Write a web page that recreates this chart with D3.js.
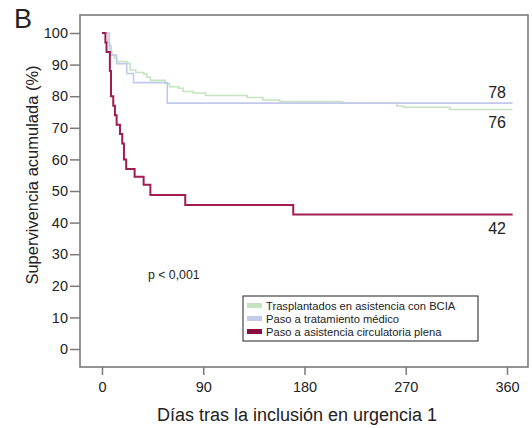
<!DOCTYPE html>
<html>
<head>
<meta charset="utf-8">
<script src="https://cdn.jsdelivr.net/npm/d3@7"></script>
<style>
  body { margin: 0; background: #fff; }
  svg text { font-family: "Liberation Sans", Arial, sans-serif; fill: #222; }
</style>
</head>
<body>
<svg id="km" width="532" height="428"></svg>
<script>
// survival curves: [day, % survival]
var bciaTx = [[0,100],[5,97],[6.5,94],[9,93],[11,92],[13,91],[22,90.4],[25,88.3],[30,87.5],[37,87],
  [40,86],[43,85],[56,84],[60,83],[68,82.5],[72,81.5],[81,81],[92,80.2],[129,79.6],[143,78.8],
  [158,78.3],[214,77.8],[262,76.9],[268,76.5],[309,75.8],[365,75.8]];
var medico = [[0,100],[6.5,96],[8,93],[13,90.3],[22,87.2],[28,84.3],[58,77.8],[365,77.8]];
var plena = [[0,100],[3,97],[4,94],[7,88],[8,80],[10,77],[11.5,74],[13,71],[16,68],[18,65],
  [19.5,60],[21.5,57],[29,54.5],[37,52],[43,48.7],[74,45.6],[170,42.6],[365,42.6]];

var seriesNames = ["Trasplantados en asistencia con BCIA", "Paso a tratamiento médico", "Paso a asistencia circulatoria plena"];
var endLabels = ["76", "78", "42"];
var xTicks = [0, 90, 180, 270, 360];
var yTicks = [0, 10, 20, 30, 40, 50, 60, 70, 80, 90, 100];

(function () {
  var svg = d3.select("#km");
  var colors = ["#c3e4bf", "#c2c9ea", "#a01c52"];
  var swatch = ["#c3e4bf", "#c2c9ea", "#8c0c42"];
  var widths = [1.6, 1.6, 2];

  var x = d3.scaleLinear().domain([0, 360]).range([102, 507]);
  var y = d3.scaleLinear().domain([0, 100]).range([349, 33]);

  // plot frame
  svg.append("rect")
    .attr("x", 80).attr("y", 15)
    .attr("width", 448).attr("height", 352)
    .attr("fill", "none").attr("stroke", "#7a7a7a").attr("stroke-width", 1.6);

  // y axis
  var gy = svg.append("g")
    .attr("transform", "translate(80,0)")
    .call(d3.axisLeft(y).tickValues(yTicks).tickSize(10).tickPadding(2))
    .call(g => g.select(".domain").remove());
  gy.selectAll(".tick line").attr("stroke", "#7a7a7a").attr("stroke-width", 1.5);
  gy.selectAll(".tick text").style("font-size", "14.5px").attr("fill", "#222");

  // x axis, hangs below the frame
  var gx = svg.append("g")
    .attr("transform", "translate(0,367)")
    .call(d3.axisBottom(x).tickValues(xTicks).tickSize(8).tickPadding(7))
    .call(g => g.select(".domain").remove());
  gx.selectAll(".tick line").attr("stroke", "#7a7a7a").attr("stroke-width", 1.5);
  gx.selectAll(".tick text").style("font-size", "14.5px").attr("fill", "#222");

  var line = d3.line()
    .x(d => x(d[0]))
    .y(d => y(d[1]))
    .curve(d3.curveStepAfter);

  [bciaTx, medico, plena].forEach(function (s, i) {
    svg.append("path")
      .datum(s)
      .attr("d", line)
      .attr("fill", "none")
      .attr("stroke", colors[i])
      .attr("stroke-width", widths[i]);
  });

  // end labels
  var lastVals = [bciaTx, medico, plena].map(s => s[s.length - 1][1]);
  var offs = [19, -5, 20];
  endLabels.forEach(function (t, i) {
    svg.append("text")
      .attr("x", 506).attr("y", y(lastVals[i]) + offs[i])
      .attr("text-anchor", "end")
      .style("font-size", "16px")
      .text(t);
  });

  svg.append("text")
    .attr("x", 148).attr("y", 279)
    .style("font-size", "12.3px")
    .text("p < 0,001");

  // legend
  var leg = svg.append("g").attr("transform", "translate(243,296)");
  leg.append("rect")
    .attr("width", 235).attr("height", 45)
    .attr("fill", "#fff").attr("stroke", "#444").attr("stroke-width", 1.2);
  seriesNames.forEach(function (n, i) {
    leg.append("rect")
      .attr("x", 4).attr("y", 7 + i * 13)
      .attr("width", 15).attr("height", 5)
      .attr("fill", swatch[i]);
    leg.append("text")
      .attr("x", 23).attr("y", 14 + i * 13)
      .style("font-size", "11.2px")
      .text(n);
  });

  // titles
  svg.append("text")
    .attr("x", 297).attr("y", 421)
    .attr("text-anchor", "middle")
    .style("font-size", "18px")
    .text("Días tras la inclusión en urgencia 1");

  svg.append("text")
    .attr("transform", "translate(38,175) rotate(-90)")
    .attr("text-anchor", "middle")
    .style("font-size", "16.5px")
    .text("Supervivencia acumulada (%)");

  svg.append("text")
    .attr("x", 14).attr("y", 28)
    .style("font-size", "27px")
    .text("B");
})();
</script>
</body>
</html>
